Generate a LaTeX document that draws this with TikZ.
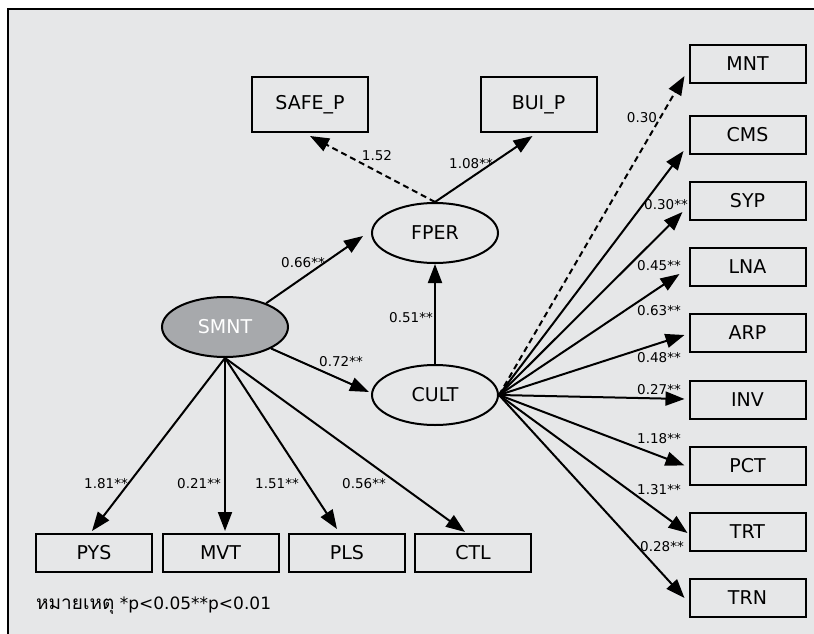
\documentclass[tikz,border=0pt]{standalone}
\usepackage{fontspec}
\setmainfont{DejaVu Sans}
\newfontfamily\thaifont[Script=Thai]{Loma}
\usetikzlibrary{arrows.meta,shapes.geometric}
\definecolor{bgc}{HTML}{E6E7E8}
\definecolor{smc}{HTML}{A7A9AC}
\tikzset{
  obs/.style={draw, line width=2pt, minimum width=116pt, minimum height=38pt, inner sep=0pt, font=\fontsize{19}{21}\selectfont},
  obstall/.style={obs, minimum height=55pt},
  lat/.style={ellipse, draw, line width=2pt, minimum width=126pt, minimum height=60pt, inner sep=0pt, font=\fontsize{19}{21}\selectfont},
  lbl/.style={inner sep=0pt, font=\fontsize{13.5}{15}\selectfont},
  arr/.style={line width=2pt, -{Triangle[length=19pt,width=14pt]}},
  darr/.style={arr, dash pattern=on 6pt off 4pt}
}
\begin{document}
\begin{tikzpicture}[x=1pt,y=-1pt]
\useasboundingbox (0,0) rectangle (814,634);
\fill[bgc] (8,9) rectangle (830,650);
\draw[line width=2pt] (8,650) -- (8,9) -- (830,9);

% latent variables
\node[lat] (fper) at (435,233) {FPER};
\node[lat] (cult) at (435,395) {CULT};
\node[lat, fill=smc, text=white] (smnt) at (225,327) {SMNT};

% top boxes
\node[obstall] (safe) at (310,104.5) {SAFE\_P};
\node[obstall] (bui) at (538.5,104.5) {BUI\_P};

% right boxes
\node[obs] (mnt) at (747.5,64) {MNT};
\node[obs] (cms) at (747.5,135) {CMS};
\node[obs] (syp) at (747.5,201) {SYP};
\node[obs] (lna) at (747.5,267) {LNA};
\node[obs] (arp) at (747.5,333) {ARP};
\node[obs] (inv) at (747.5,400) {INV};
\node[obs] (pct) at (747.5,465.5) {PCT};
\node[obs] (trt) at (747.5,532) {TRT};
\node[obs] (trn) at (747.5,598) {TRN};

% bottom boxes
\node[obs] (pys) at (94,553) {PYS};
\node[obs] (mvt) at (220.5,553) {MVT};
\node[obs] (pls) at (347,553) {PLS};
\node[obs] (ctl) at (473,553) {CTL};

% connectors
\draw[darr] (fper.north) -- ([yshift=-3pt]safe.south);
\draw[arr] (fper.north) -- ([xshift=-6pt,yshift=-3pt]bui.south);
\draw[arr] (smnt.30) -- ([xshift=-8pt,yshift=-3pt]fper.west);
\draw[arr] (smnt.-25) -- ([xshift=-2pt,yshift=3pt]cult.west);
\draw[arr] (cult.north) -- (fper.south);

\draw[arr] (smnt.south) -- ([xshift=-2pt,yshift=2pt]pys.north);
\draw[arr] (smnt.south) -- ([yshift=2pt]smnt.south |- mvt.north);
\draw[arr] (smnt.south) -- ([xshift=-10pt,yshift=4pt]pls.north);
\draw[arr] (smnt.south) -- ([xshift=-8pt,yshift=1pt]ctl.north);

\draw[darr] (cult.east) -- ([xshift=-4pt,yshift=-12pt]mnt.west);
\draw[arr] (cult.east) -- ([xshift=-5pt,yshift=-16pt]cms.west);
\draw[arr] (cult.east) -- ([xshift=-6pt,yshift=-11pt]syp.west);
\draw[arr] (cult.east) -- ([xshift=-9pt,yshift=-7pt]lna.west);
\draw[arr] (cult.east) -- ([xshift=-4pt,yshift=-2pt]arp.west);
\draw[arr] (cult.east) -- ([xshift=-4pt,yshift=1pt]inv.west);
\draw[arr] (cult.east) -- ([xshift=-4pt]pct.west);
\draw[arr] (cult.east) -- ([xshift=-1pt,yshift=-1pt]trt.west);
\draw[arr] (cult.east) -- ([xshift=-4pt]trn.west);

% coefficient labels
\node[lbl] (l1) at (377,156) {1.52};
\node[lbl] (l2) at (471,164) {1.08**};
\node[lbl] (l3) at (303,263) {0.66**};
\node[lbl] (l4) at (411,318) {0.51**};
\node[lbl] (l5) at (341,362) {0.72**};
\node[lbl] (l6) at (106,484) {1.81**};
\node[lbl] (l7) at (199,484) {0.21**};
\node[lbl] (l8) at (277,484) {1.51**};
\node[lbl] (l9) at (364,484) {0.56**};
\node[lbl] (r1) at (642,118) {0.30};
\node[lbl] (r2) at (666,205) {0.30**};
\node[lbl] (r3) at (659,266) {0.45**};
\node[lbl] (r4) at (659,311) {0.63**};
\node[lbl] (r5) at (659,358) {0.48**};
\node[lbl] (r6) at (659,390) {0.27**};
\node[lbl] (r7) at (659,439) {1.18**};
\node[lbl] (r8) at (659,490) {1.31**};
\node[lbl] (r9) at (662,547) {0.28**};

\node[anchor=west, inner sep=0pt, font=\fontsize{17}{21}\selectfont] (note) at (36,606) {{\thaifont\fontsize{19}{21}\selectfont หมายเหตุ} *p<0.05**p<0.01};
\end{tikzpicture}
\end{document}
